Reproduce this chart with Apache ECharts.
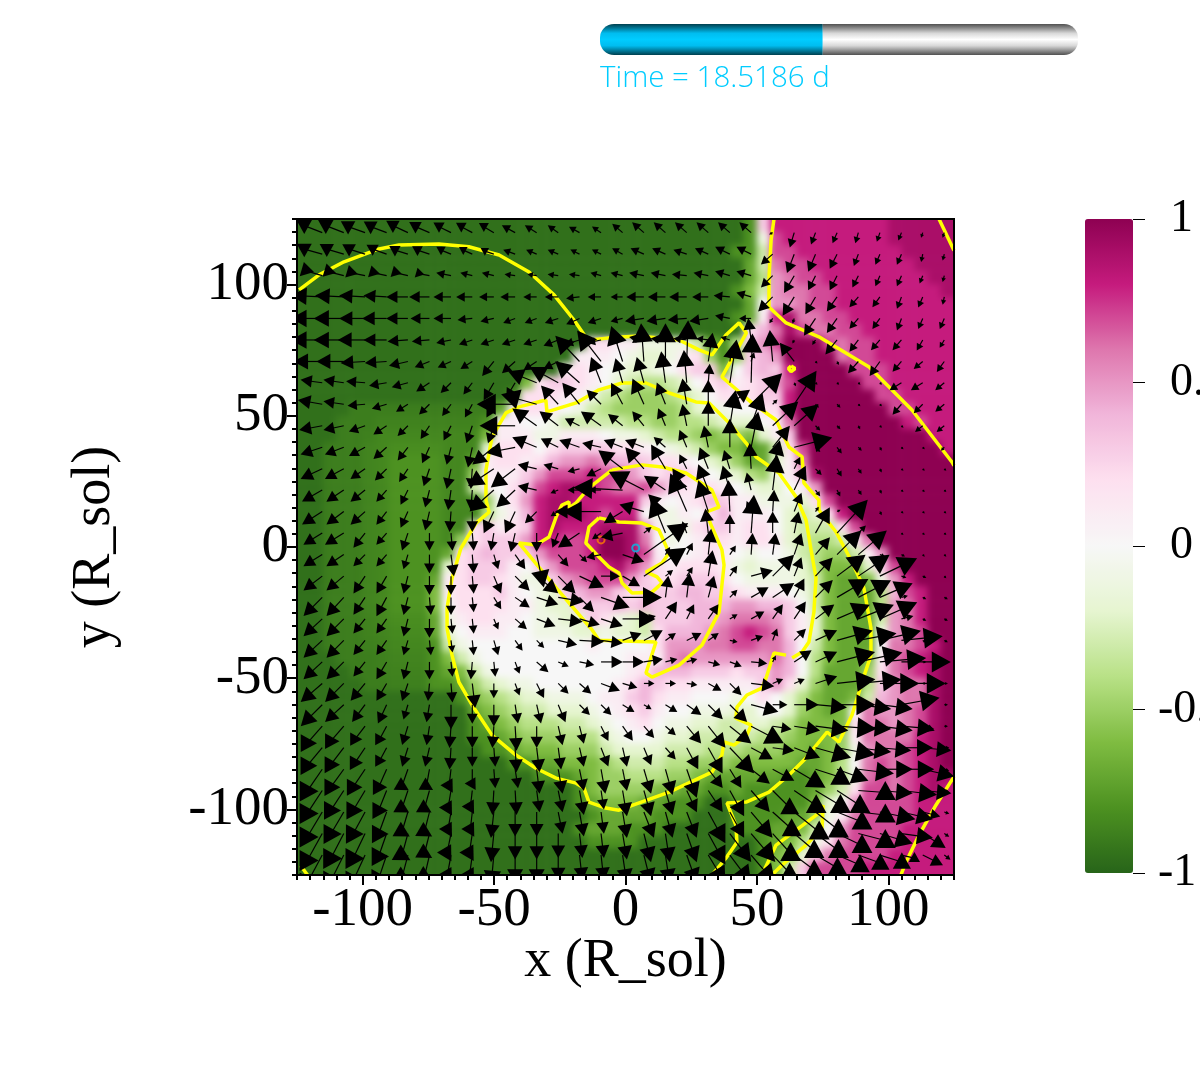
<!DOCTYPE html>
<html>
<head>
<meta charset="utf-8">
<style>html,body{margin:0;padding:0;background:#fff}#c{width:1200px;height:1092px}</style>
<script src="https://cdn.jsdelivr.net/npm/echarts@6/dist/echarts.min.js"></script>
</head>
<body>
<div id="c"></div>
<script>
// Colour scale of the slice, dark green to dark magenta
const paletteStops = ['#276419','#4d9221','#7fbc41','#b8e186','#e6f5d0','#f7f7f7','#fde0ef','#f1b6da','#de77ae','#c51b7d','#8e0152'];
const axisTicks = [-100,-50,0,50,100];
const timeDays = 18.5186;
const timeFraction = 0.466;
// The outermost green band reads slightly darker than a plain -9
const outerGreenLevel = -9.5;

// Field on a 50x50 lattice covering -125..125 in both directions, top row first, in tenths
const fieldTenths = [
[-9,-9,-9,-9,-9,-9,-9,-9,-9,-9, -9,-9,-9,-9,-9,-9,-9,-9,-9,-9, -9,-9,-9,-9,-9,-9,-9,-9,-9,-9, -9,-9,-9,-9,-8,3,8,8,8,8, 8,8,8,8,8,9,9,9,9,9],
[-9,-9,-9,-9,-9,-9,-9,-9,-9,-9, -9,-9,-9,-9,-9,-9,-9,-9,-9,-9, -9,-9,-9,-9,-9,-9,-9,-9,-9,-9, -9,-9,-9,-9,-8,-1,7,8,8,8, 8,8,8,8,8,9,9,9,9,9],
[-9,-9,-9,-9,-9,-9,-9,-9,-9,-9, -9,-9,-9,-9,-9,-9,-9,-9,-9,-9, -9,-9,-9,-9,-9,-9,-9,-9,-9,-9, -9,-9,-9,-8,-8,-3,7,7,8,8, 8,8,8,8,8,8,9,9,9,9],
[-9,-9,-9,-9,-9,-9,-9,-9,-9,-9, -9,-9,-9,-9,-9,-9,-9,-9,-9,-9, -9,-9,-9,-9,-9,-9,-9,-9,-9,-9, -9,-9,-9,-9,-7,-3,6,7,7,8, 8,8,8,8,8,8,8,9,9,9],
[-9,-9,-9,-9,-9,-9,-9,-9,-9,-9, -9,-9,-9,-9,-9,-9,-9,-9,-9,-9, -9,-9,-9,-9,-9,-9,-9,-9,-9,-9, -9,-9,-9,-9,-7,-4,5,6,7,7, 8,8,8,8,8,8,8,8,9,9],
[-9,-9,-9,-9,-9,-9,-9,-9,-9,-9, -9,-9,-9,-9,-9,-9,-9,-9,-9,-9, -9,-9,-9,-9,-9,-9,-9,-9,-9,-9, -9,-9,-9,-8,-6,-3,5,6,6,7, 7,8,8,8,8,8,8,8,8,9],
[-9,-9,-9,-9,-9,-9,-9,-9,-9,-9, -9,-9,-9,-9,-9,-9,-9,-9,-9,-9, -9,-9,-9,-9,-9,-9,-9,-9,-9,-9, -9,-9,-9,-9,-7,0,5,5,6,7, 7,8,8,8,8,8,8,8,8,8],
[-9,-9,-9,-9,-9,-9,-9,-9,-9,-9, -9,-9,-9,-9,-9,-9,-9,-9,-9,-9, -9,-9,-9,-9,-9,-9,-9,-9,-9,-9, -9,-9,-9,-8,-7,1,8,9,6,6, 7,7,8,8,8,8,8,8,8,8],
[-9,-9,-9,-9,-9,-9,-9,-9,-9,-9, -9,-9,-9,-9,-9,-9,-9,-9,-9,-9, -9,-9,-9,-9,-9,-9,-9,-9,-9,-9, -9,-9,-9,-9,2,4,6,9,7,6, 6,7,7,8,8,8,8,8,8,8],
[-9,-9,-9,-9,-9,-9,-9,-9,-9,-9, -9,-9,-9,-9,-9,-9,-9,-9,-9,-9, -9,-9,2,2,1,1,-1,-1,-1,-1, -3,-7,-8,-4,3,5,7,10,10,10, 7,6,7,7,8,8,8,8,8,8],
[-9,-9,-9,-9,-9,-9,-9,-9,-9,-9, -9,-9,-9,-9,-9,-9,-9,-9,-9,-9, -9,1,1,1,0,-1,-2,-2,-1,1, 2,-5,-8,-5,3,4,5,10,10,10, 10,6,7,7,8,8,8,8,8,8],
[-9,-9,-9,-9,-9,-9,-9,-9,-9,-9, -9,-9,-9,-9,-9,-9,-9,-9,-9,-9, 1,2,1,0,-1,-2,-2,-1,0,2, 3,3,-6,0,3,4,3,8,10,10, 10,10,7,7,7,8,8,8,8,8],
[-9,-9,-9,-9,-9,-9,-9,-9,-9,-9, -9,-9,-9,-9,-9,-9,-9,-6,2,3, 3,2,1,0,-2,-3,-4,-4,-3,-2, 0,2,3,1,2,3,5,7,10,10, 10,10,10,7,7,8,8,8,8,8],
[-9,-9,-9,-9,-9,-9,-9,-9,-9,-9, -9,-9,-9,-9,-9,-9,-8,2,2,2, 1,1,-1,-3,-4,-5,-5,-5,-4,-3, -2,0,2,2,2,3,3,8,10,10, 10,10,10,10,7,7,8,8,8,8],
[-9,-9,-9,-9,-8.9,-8.9,-8.9,-8.9,-8.9,-8.9, -8.9,-8.9,-8.9,-8.9,-8.9,-7,1,2,2,1, 0,-1,-3,-4,-5,-5,-5,-5,-5,-4, -2,-1,-1,0,0,2,2,8,10,10, 10,10,10,10,10,7,7,8,8,8],
[-9,-9,-9,-8.9,-8.9,-8.9,-8.7,-8.7,-8.7,-8.7, -8.7,-8.7,-8.7,-8.7,-8,1,1,0,0,-1, -3,-3,-3,-3,-3,-4,-4,-5,-5,-4, -4,-3,-2,-2,-2,0,1,6,10,10, 10,10,10,10,10,10,8,7,8,8],
[-9,-9,-9,-8.9,-8.9,-8.8,-8.5,-8.5,-8.5,-8.5, -8.5,-8.5,-8.5,-8.5,-6,1,1,1,-1,-1, 1,1,1,0,-1,-1,-2,-3,-4,-4, -5,-6,-5,-5,-6,-2,1,3,10,10, 10,10,10,10,10,10,10,10,8,8],
[-9,-9,-8.9,-8.9,-8.9,-8.6,-8.5,-8.2,-8.2,-8.2, -8.2,-8.5,-8.5,-8.5,-2,2,2,2,0,2, 3,3,3,3,2,2,1,0,-1,-2, -3,-5,-6,-6,-8,-7,-3,2,7,10, 10,10,10,10,10,10,10,10,10,8],
[-9,-9,-8.9,-8.9,-8.9,-8.6,-8.5,-8,-8,-8, -8,-8.5,-8.5,-7,1,2,2,1,2,4, 5,5,6,5,4,4,3,2,2,1, 0,-2,-3,-5,-7,-7,-2,1,6,10, 10,10,10,10,10,10,10,10,10,10],
[-9,-9,-8.9,-8.9,-8.9,-8.6,-8.5,-8,-8,-8, -8,-8.5,-8.5,-5,1,1,1,3,5,7, 7,7,8,7,7,5,3,2,3,3, 2,0,-1,-2,-4,-5,-1,1,4,9, 10,10,10,10,10,10,10,10,10,10],
[-9,-9,-8.9,-8.9,-8.9,-8.6,-8.5,-8,-8,-8, -8,-8.5,-8.5,-3,1,0,2,4,7,8, 9,9,8,7,6,6,7,5,3,2, 1,2,1,0,-1,-2,-2,0,1,5, 10,10,10,10,10,10,10,10,10,10],
[-9,-9,-8.9,-8.9,-8.9,-8.6,-8.5,-8,-8,-8, -8,-8.5,-8.5,-8.5,-5,0,2,5,8,9, 9,8,8,8,8,8,3,1,0,1, 2,4,3,1,1,-1,-1,-1,-2,2, 7,10,10,10,10,10,10,10,10,10],
[-9,-9,-8.9,-8.9,-8.9,-8.6,-8.5,-8,-8,-8, -8,-8.5,-8.5,-8.5,-4,-1,1,4,8,9, 9,9,8,7,8,8,0,-1,-1,1, 0,2,4,1,1,1,0,-2,-3,-2, 2,8,10,10,10,10,10,10,10,10],
[-9,-9,-8.9,-8.9,-8.9,-8.6,-8.5,-8,-8,-8, -8,-8.5,-8.5,2,3,1,2,3,8,9, 8,8,8,9,9,9,5,1,-1,-1, 2,3,3,1,2,2,0,-2,-3,-3, -3,2,7,10,10,10,10,10,10,10],
[-9,-9,-8.9,-8.9,-8.9,-8.6,-8.5,-8,-8,-8, -8,-8.5,-5,2,3,3,3,5,8,8, 7,7,8,10,10,9,6,0,-1,0, 1,2,2,1,2,2,1,-2,-3,-4, -4,-3,1,6,10,10,10,10,10,10],
[-9,-9,-8.9,-8.9,-8.9,-8.6,-8.5,-8,-8,-8, -8,-7,2,3,4,3,3,3,5,7, 7,7,8,10,10,9,7,1,0,0, 1,2,1,0,-1,0,0,-1,-3,-4, -5,-5,-3,1,5,10,10,10,10,10],
[-9,-9,-8.9,-8.9,-8.9,-8.6,-8.5,-8,-8,-8, -8,-2,2,3,3,3,1,0,3,5, 7,7,7,8,9,7,5,2,1,2, 2,2,1,-1,-2,-1,-1,-1,-2,-4, -6,-6,-6,-2,3,7,10,10,10,10],
[-9,-9,-8.9,-8.9,-8.9,-8.6,-8.5,-8,-8,-8, -7,1,2,3,3,2,1,-1,-1,3, 5,6,7,7,7,5,3,2,2,3, 3,3,2,0,-1,-1,-1,-1,-2,-3, -6,-7,-7,-6,-1,5,8,10,10,10],
[-9,-9,-8.9,-8.9,-8.9,-8.6,-8.5,-8,-8,-8, -6,1,2,2,2,3,1,0,-1,-2, 3,4,5,5,3,2,3,3,3,4, 4,3,3,2,1,1,1,0,-1,-3, -6,-7,-7,-7,-4,4,7,8,10,10],
[-9,-9,-8.9,-8.9,-8.9,-8.6,-8.5,-8,-8,-8, -6,0,2,2,2,2,1,1,-1,-2, -2,3,3,3,4,3,4,3,3,3, 4,4,4,5,5,4,4,3,0,-3, -6,-7,-7,-7,-4,5,6,8,10,10],
[-9,-9,-8.9,-8.9,-8.9,-8.7,-8.5,-8.2,-8.2,-8.2, -7,-1,1,2,2,1,1,0,-1,-1, -2,-2,3,2,-1,-2,-3,3,3,3, 4,4,5,6,6,6,5,3,1,-2, -6,-7,-7,-7,-3,5,6,8,10,10],
[-9,-9,-8.9,-8.9,-8.9,-8.7,-8.6,-8.4,-8.3,-8.3, -7,-2,0,1,1,1,0,0,-1,-1, -1,-2,-2,-1,-2,-2,-3,2,4,4, 4,5,6,7,8,7,6,3,1,-2, -6,-7,-7,-7,-1,5,6,7,10,10],
[-9,-9,-8.9,-8.9,-8.9,-8.8,-8.7,-8.5,-8.5,-8.5, -8,-3,-1,0,0,0,0,0,0,0, 0,0,1,0,0,0,0,2,5,5, 5,6,6,7,7,6,6,4,0,-3, -6,-7,-7,-7,0,6,6,7,8,10],
[-9,-9,-9,-8.9,-8.9,-8.9,-8.8,-8.6,-8.6,-8.6, -8,-6,-3,-1,0,0,0,0,0,0, 0,0,0,0,0,1,1,1,5,6, 5,5,5,5,5,5,6,4,0,-4, -6,-7,-7,-6,1,6,7,8,9,10],
[-9,-9,-9,-9,-8.9,-8.9,-8.8,-8.7,-8.7,-8.7, -8,-7,-6,-3,-1,0,0,0,0,0, 0,0,0,0,0,1,2,4,4,4, 3,3,3,2,3,3,5,4,0,-4, -7,-7,-7,-5,2,6,7,8,9,10],
[-9,-9,-9,-9,-9,-8.9,-8.9,-8.8,-8.8,-8.8, -8,-8,-7,-5,-3,-2,-1,-1,0,0, 0,0,0,0,1,2,4,3,2,2, 1,1,1,1,1,3,5,2,-2,-5, -7,-7,-7,-4,3,5,6,6,9,10],
[-9,-9,-9,-9,-9,-9,-9,-9,-9,-9, -9,-9,-8,-6,-5,-4,-3,-2,-2,-1, -1,-1,0,1,1,3,4,2,1,1, 0,0,0,-1,0,2,0,-2,-4,-6, -7,-7,-6,-3,4,5,6,6,9,10],
[-9,-9,-9,-9,-9,-9,-9,-9,-9,-9, -9,-9,-9,-7,-6,-5,-4,-3,-3,-2, -2,-2,-1,0,1,2,3,1,0,0, -1,-1,-1,-2,-2,0,0,-2,-5,-6, -7,-6,0,6,5,5,6,7,9,10],
[-9,-9,-9,-9,-9,-9,-9,-9,-9,-9, -9,-9,-9,-8,-7,-6,-5,-4,-4,-4, -3,-3,-2,-1,0,1,2,0,-1,-1, -2,-2,-3,-3,-2,-2,-3,-4,-6,-6, -6,-6,2,6,6,5,6,7,9,10],
[-9,-9,-9,-9,-9,-9,-9,-9,-9,-9, -9,-9,-9,-8,-8,-7,-6,-5,-5,-5, -4,-4,-4,-2,-1,0,0,-1,-2,-2, -3,-3,-3,-3,-3,-4,-4,-5,-6,-6, -6,-5,1,6,6,6,6,8,9,10],
[-9,-9,-9,-9,-9,-9,-9,-9,-9,-9, -9,-9,-9,-9,-8,-8,-7,-6,-6,-6, -5,-5,-5,-3,-2,-2,-2,-2,-3,-3, -3,-4,-4,-4,-5,-5,-5,-6,-6,-7, -6,-5,-1,5,6,6,7,8,9,10],
[-9,-9,-9,-9,-9,-9,-9,-9,-9,-9, -9,-9,-9,-9,-9,-9,-8,-8,-7,-7, -6,-6,-6,-5,-4,-3,-3,-3,-4,-4, -5,-5,-5,-6,-6,-6,-6,-6,-7,-7, -6,-4,0,6,7,6,7,8,9,10],
[-9,-9,-9,-9,-9,-9,-9,-9,-9,-9, -9,-9,-9,-9,-9,-9,-9,-9,-8,-8, -8,-7,-6,-5,-5,-4,-4,-4,-5,-5, -6,-7,-7,-7,-7,-7,-7,-8,-8,-7, -6,-4,-1,6,7,6,7,8,9,9],
[-9,-9,-9,-9,-9,-9,-9,-9,-9,-9, -9,-9,-9,-9,-9,-9,-9,-9,-9,-9, -9,-8,-6,-5,-5,-5,-5,-6,-6,-7, -7,-8,-8,-7,-8,-8,-8,-8,-8,-7, -5,-3,2,7,7,6,7,8,9,8],
[-9,-9,-9,-9,-9,-9,-9,-9,-9,-9, -9,-9,-9,-9,-9,-9,-9,-9,-9,-9, -9,-8,-7,-6,-6,-6,-7,-7,-8,-8, -8,-9,-9,-8,-8,-8,-8,-8,-8,-6, -2,0,5,7,7,7,7,8,8,8],
[-9,-9,-9,-9,-9,-9,-9,-9,-9,-9, -9,-9,-9,-9,-9,-9,-9,-9,-9,-9, -9,-9,-8,-7,-7,-7,-7,-8,-8,-8, -9,-9,-9,-8,-8,-8,-8,-7,-7,-5, -1,1,6,7,7,7,7,8,8,8],
[-9,-9,-9,-9,-9,-9,-9,-9,-9,-9, -9,-9,-9,-9,-9,-9,-9,-9,-9,-9, -9,-8,-7,-7,-7,-8,-8,-8,-9,-9, -9,-9,-9,-8,-8,-8,-7,-7,-6,-3, 0,5,7,7,7,7,8,8,8,8],
[-9,-9,-9,-9,-9,-9,-9,-9,-9,-9, -9,-9,-9,-9,-9,-9,-9,-9,-9,-9, -9,-9,-8,-8,-8,-8,-9,-9,-9,-9, -9,-9,-9,-9,-9,-8,-7,-6,-4,-1, 2,6,7,7,7,7,8,8,8,8],
[-9,-9,-9,-9,-9,-9,-9,-9,-9,-9, -9,-9,-9,-9,-9,-9,-9,-9,-9,-9, -9,-9,-9,-9,-9,-9,-9,-9,-9,-9, -9,-9,-9,-9,-9,-8,-6,-5,-2,3, 6,7,7,7,7,8,8,8,8,8],
[-9,-9,-9,-9,-9,-9,-9,-9,-9,-9, -9,-9,-9,-9,-9,-9,-9,-9,-9,-9, -9,-9,-9,-9,-9,-9,-9,-9,-9,-9, -9,-9,-9,-9,-9,-8,-6,-3,3,7, 7,7,7,8,8,8,8,8,8,8]
];

// Iso-lines of the field, as (x, y) in solar radii
const isoTopArc = [[-124.2,98],[-116.6,103.7],[-107.1,108.7],[-93.8,113.6],[-86.2,115.1],[-71,115.5],[-59.6,114.4],[-48.1,111.3],[-36.7,104.8],[-27.2,96.1],[-19.6,86.5],[-13.9,78.2]];
const isoOuterShell = [[-13.1,78.9],[-6.3,79.7],[5.1,80.4],[20.4,78.9],[28,75.1],[32.9,73.2],[38.2,80.8],[43.2,85.4],[46,81.6],[36.7,64.8],[48.1,54.9],[57.3,48.4],[62.2,38.1],[67.2,34.3],[67.9,24.4],[73.6,17.9],[73.6,14.1],[80.1,5.7],[86.2,-5.7],[90.7,-15.6],[93.4,-30.9],[93.4,-41.2],[90,-51.5],[86.2,-64],[81.2,-74.3],[76.7,-70.5],[68.7,-80.4],[62.2,-86.9],[54.6,-93.4],[45.9,-97.2],[38.6,-97.6],[42,-106],[42.4,-112.5],[38.2,-118.6],[32.9,-125]];
const isoMiddleA = [[-62.6,-0.4],[-56.9,9.1],[-51.9,13.3],[-53.1,17.9],[-53.1,29.4],[-50.8,41.9],[-45.5,51.1],[-40.5,53.4],[-30.3,56],[-29.9,51.5],[-18.8,54.9],[-10.1,59.9],[-1.3,62.5],[7.8,62.5],[16.6,58.7],[26.8,55.3],[31.8,54.9],[39.4,47.3],[45.9,39.6],[49.7,34.3],[58.4,28.2],[64.9,19.1],[68.7,10.3],[70.6,-1.1],[72.5,-11.8],[71.7,-24.8],[69.8,-36.2],[67.2,-40],[63.4,-42.3]];
const isoMiddleB = [[61.1,-41.2],[56.5,-40.4],[53.5,-49.9],[51.9,-53.8],[46.2,-56.4],[42.4,-61],[42,-65.2],[47.8,-67.9],[46.2,-71.7],[41.3,-75.5],[37.5,-74.3],[36.7,-79.3],[32.9,-85.8],[16.6,-93.4],[-2.5,-100.3],[-7.5,-99.5],[-13.9,-97.2],[-15.8,-91.9],[-18.8,-90],[-26.4,-88.1],[-34.1,-84.3],[-41.7,-79.3],[-50.8,-71.7],[-58.4,-60.2],[-63.4,-51.5],[-66,-41.2],[-67.9,-30.9],[-67.9,-23.3],[-66,-11.8],[-62.6,-0.4]];
const isoSpiral = [[-5.1,29.4],[6.3,31.3],[13.9,30.5],[23,28.2],[32.9,21.7],[35.6,15.2],[30.6,13.3],[32.9,7.6],[36.7,-1.1],[37.5,-6.9],[35.6,-24.8],[29.1,-37.4],[20.4,-45],[10.1,-49.6],[7.8,-48],[11.6,-36.2],[-10.1,-35.5],[-12.7,-31.6],[-28,-13.7],[-40.5,1.5],[-34.1,0.8],[-29.1,3.8],[-26.4,11.4],[-24.2,16],[-21.5,17.2],[-21.5,14.9],[-18.8,16.8],[-13.9,22.5],[-5.1,29.4]];
const isoCore = [[-10.1,11.1],[-2.5,9.5],[6.3,9.1],[12.7,6.5],[16.6,-2.3],[13.9,-6.1],[7.8,-9.5],[12,-11.4],[13.9,-13.7],[10.1,-17.2],[2.5,-17.5],[-1.3,-13.7],[-2.5,-9.9],[-6.3,-7.6],[-10.1,-3.8],[-15.1,1.5],[-13.9,7.6],[-10.1,11.1]];
const isoRightFront = [[56.5,125],[55.4,117],[54.6,102.9],[54.6,91.5],[61.1,85.4],[73.6,80.1],[92.7,68.6],[109,52.2],[124.2,32.4],[125,31]];
const isoCornerTop = [[119.3,125],[125,113]];
const isoCornerBottom = [[125,-87.5],[118.1,-98.4],[111.7,-109.8],[106.7,-120.1],[104.8,-125]];
const isoLoop = [[51.9,-125],[57.3,-113.6],[73.6,-101.4],[75.2,-98.4],[74.8,-107.1],[68.7,-113.6],[59.6,-121.2],[55.7,-125]];
const isoDot = [[63,69],[64.5,68],[63,66.8],[62,68],[63,69]];
const isoEdge = [[-123.6,-121.5],[-121,-125]];

// Positions of the two stellar cores
const coreOrange = [-9.3,2.7];
const coreCyan = [3.9,-0.4];

// Where each velocity arrow starts
const flowXs = [-115.4,-107.2,-99.1,-90.9,-82.8,-74.6,-66.4,-58.3,-50.1,-42,-33.8,-25.6,-17.5,-9.3,-1.1,7,15.2,23.3,31.5,39.7,47.8,56,64.2,72.3,80.5,88.6,96.8,105,113.1,121.3];
const flowYs = [119.8,111.6,103.4,95.3,87.1,78.9,70.7,62.6,54.4,46.2,38,29.8,21.7,13.5,5.3,-2.9,-11.1,-19.2,-27.4,-35.6,-43.8,-52,-60.1,-68.3,-76.5,-84.7,-92.8,-101,-109.2,-117.4];
// Velocity pairs (east, north) per arrow, top row first
const flowRows = [
[-18,7,-18,7,-17,6,-16,6,-15,7,-14,6,-12,6,-11,6,-10,6,-9,5,-8,5,-7,5,-7,4,-6,4,-7,6,-8,7,-8,7,-8,7,-8,7,-8,7,-8,7,-2,-1,-3,-10,-3,-8,-3,-7,-2,-7,-2,-6,-2,-5,-1,-3,-1,-3],
[-18,5,-17,5,-16,5,-14,5,-13,4,-12,4,-10,4,-9,4,-9,3,-8,3,-7,3,-7,3,-6,3,-6,3,-7,4,-9,4,-9,4,-9,3,-9,4,-10,5,-10,5,-8,-7,-5,-13,-5,-12,-5,-10,-3,-8,-3,-7,-3,-7,-1,-5,-1,-4],
[-17,5,-16,4,-15,3,-14,3,-13,3,-11,2,-10,2,-8,2,-8,2,-7,1,-6,1,-7,1,-7,1,-7,2,-8,2,-10,2,-10,2,-10,1,-10,2,-10,3,-10,3,-8,-8,-7,-12,-5,-10,-5,-10,-4,-8,-3,-7,-3,-7,-2,-5,-1,-4],
[-22,1,-20,1,-18,1,-16,1,-15,0,-14,0,-12,0,-11,0,-10,0,-10,0,-9,0,-9,0,-9,-1,-9,0,-8,0,-12,0,-12,0,-12,0,-11,0,-11,1,-10,3,-10,-10,-8,-13,-7,-12,-7,-10,-6,-7,-5,-7,-3,-8,-3,-7,-1,-5],
[-22,0,-21,0,-18,0,-17,0,-15,0,-13,0,-12,0,-10,-1,-9,-2,-8,-3,-8,-3,-9,-3,-9,-4,-9,-3,-8,-2,-13,-2,-13,-2,-13,-1,-13,-2,-10,2,-8,0,-2,-3,-1,-3,-8,-12,-7,-10,-6,-7,-5,-7,-3,-8,-3,-7,-3,-7],
[-22,0,-21,0,-19,0,-16,0,-14,-1,-12,-1,-10,-2,-9,-3,-9,-3,-9,-3,-9,-3,-10,-4,-10,-3,-9,-2,-8,-1,-10,2,-10,1,-9,1,-8,1,-6,2,-2,15,-1,-2,-1,-2,-2,-3,-8,-10,-6,-8,-6,-7,-6,-7,-4,-7,-3,-5],
[-20,0,-19,0,-17,-1,-15,-1,-13,-3,-10,-4,-9,-4,-8,-5,-8,-10,-9,-8,-9,-6,-10,-5,-17,18,-17,22,-8,25,-2,27,0,27,1,30,3,20,1,6,2,6,-2,22,-10,13,1,-1,1,-2,-7,-8,-7,-10,-6,-7,-6,-5,-5,-7],
[-15,2,-14,2,-13,1,-12,-2,-11,-3,-9,-6,-7,-7,-6,-8,-7,-12,-6,-10,-20,8,-20,11,-17,15,-7,18,-5,17,-5,18,-3,22,-2,23,1,13,5,32,1,38,2,3,1,-2,1,-1,1,-1,1,-1,1,-1,-8,-5,-8,-5,-6,-5],
[-17,3,-14,2,-12,-1,-10,-3,-8,-5,-7,-7,-6,-8,-5,-9,-5,-9,-27,0,-25,7,-12,13,-12,15,-10,10,-8,15,-8,18,-6,15,-3,18,0,17,14,10,23,23,3,3,16,24,2,-2,2,-2,1,-1,1,-1,-6,-7,-6,-6,-6,-5],
[-16,-3,-14,-3,-11,-4,-9,-6,-7,-7,-6,-9,-5,-10,-4,-12,-4,-12,-25,0,-17,12,-13,10,-10,5,-14,10,-10,8,-8,10,-5,12,-3,15,0,17,4,25,8,23,18,17,17,15,3,-3,2,-2,1,-2,1,-1,1,-1,-5,-4,-5,-4],
[-15,-5,-13,-5,-11,-6,-9,-8,-7,-9,-5,-11,-3,-12,-3,-14,-15,-12,-20,-4,-17,7,-12,6,-14,5,-13,3,-13,5,-13,5,-8,7,-5,12,-3,15,0,20,5,25,12,15,27,7,3,-3,3,-4,2,-2,1,-2,1,-1,1,-1,-2,-2],
[-15,-7,-13,-7,-10,-7,-8,-8,-6,-9,-4,-12,-3,-14,-1,-14,-18,-12,-17,-13,-13,3,-10,3,-8,-2,-10,-5,-17,13,-13,15,-10,17,-5,10,-6,15,-4,13,-1,18,5,20,4,8,4,-4,3,-5,2,-3,1,-2,1,-1,1,-1,1,-1],
[-14,-8,-12,-8,-10,-8,-7,-8,-5,-10,-3,-12,-2,-14,-1,-14,-17,-15,-13,-12,-13,3,-5,-2,-8,0,-8,0,-38,2,-25,13,-15,10,-10,15,-7,18,-5,17,-3,12,3,25,8,17,3,-4,2,-4,2,-3,1,-2,1,-1,1,-1,1,-1],
[-14,-9,-12,-9,-10,-9,-7,-9,-5,-11,-3,-13,-1,-14,0,-14,-7,-15,-7,-15,-8,-8,-5,-3,-17,0,-27,0,-13,-8,-17,5,-12,12,-12,28,-7,22,-1,22,-3,7,1,15,5,13,2,3,2,1,2,-2,1,-2,1,-1,1,-1,1,-1],
[-13,-8,-13,-8,-8,-10,-7,-8,-4,-12,0,-12,1,-12,1,-12,-2,-12,-3,-13,0,-13,-4,-10,-15,-10,-6,-4,-15,-3,5,4,-10,25,-3,8,-2,17,0,13,2,27,0,15,3,15,10,18,23,25,5,5,2,-1,1,-1,1,-1,1,-1],
[-13,-8,-12,-8,-8,-8,-7,-8,-3,-10,0,-13,2,-15,1,-13,3,-10,7,-10,5,-23,7,-8,5,-5,-10,-2,15,-5,35,25,3,5,4,8,2,18,4,6,1,15,2,15,5,15,10,12,17,17,20,17,3,-1,2,-1,1,-1,1,-1],
[-13,-10,-12,-10,-8,-12,-7,-12,-3,-12,0,-13,0,-13,1,-12,5,-12,10,-10,15,-12,12,-12,17,-8,13,0,12,-7,33,22,5,4,4,6,3,18,5,7,15,4,15,15,5,13,12,13,20,15,22,15,27,13,3,-1,2,-1,1,-1],
[-13,-13,-12,-13,-8,-12,-7,-13,-3,-12,1,-12,0,-12,1,-10,5,-8,10,-7,15,-5,18,-3,10,-10,20,-7,28,0,6,3,2,15,2,17,4,15,5,5,12,7,15,10,7,13,12,12,22,13,23,12,23,10,4,1,2,-1,2,-1],
[-13,-12,-12,-12,-8,-10,-7,-10,-3,-12,0,-13,1,-10,1,-10,3,-7,8,-7,13,-5,17,-2,14,-4,15,-5,23,0,8,2,8,12,5,10,7,10,5,3,9,5,7,10,8,12,13,10,23,10,25,10,27,12,8,2,2,-1,2,-1],
[-13,-12,-12,-12,-8,-10,-7,-10,-3,-10,1,-10,1,-8,1,-10,3,-10,5,-7,5,-5,13,-3,17,-1,15,-2,13,5,13,7,7,5,10,5,7,5,5,-1,8,3,3,8,8,8,15,7,25,7,27,5,30,7,30,3,2,-1,2,-1],
[-13,-12,-12,-12,-8,-10,-7,-12,-3,-12,0,-12,1,-10,-1,-12,1,-10,3,-8,8,-7,7,-3,10,-2,15,0,15,0,13,2,8,2,7,2,8,-2,8,-3,11,-1,2,4,12,8,15,7,27,7,33,7,35,3,38,0,2,0,2,0],
[-15,-13,-13,-13,-10,-12,-7,-12,-4,-12,-1,-12,1,-13,2,-17,0,-10,3,-8,5,-10,7,-7,8,-7,13,-5,10,-3,7,0,7,0,7,-1,9,-5,8,-8,16,-2,7,3,7,3,15,5,27,3,32,3,28,0,33,0,2,0,2,0],
[-15,-15,-13,-12,-9,-12,-6,-13,-3,-10,-2,-12,0,-17,0,-13,0,-15,2,-13,3,-13,5,-12,7,-7,7,-7,8,-5,5,-3,8,-5,10,-7,10,-10,12,-12,19,-5,10,0,17,0,22,-2,27,0,23,-3,23,-3,27,5,3,0,2,0],
[-15,-17,-13,-15,-10,-13,-7,-13,-4,-13,-2,-13,-1,-15,0,-15,-1,-15,1,-17,0,-15,3,-13,3,-12,5,-10,7,-10,7,-8,7,-6,10,-12,12,-15,15,-12,23,-12,13,-2,18,-3,23,-3,28,-2,23,-2,23,-3,23,-2,8,-3,2,0],
[-15,-18,-13,-17,-10,-15,-7,-13,-4,-13,-3,-13,-1,-15,0,-13,1,-13,1,-17,2,-17,2,-15,3,-13,5,-13,3,-13,5,-12,7,-8,8,-15,10,-18,17,-18,15,-8,15,-2,18,-7,25,-7,27,-5,23,-3,22,-2,22,0,20,-2,3,0],
[-15,-22,-13,-18,-12,-18,-8,-18,-6,-17,-3,-17,-2,-17,0,-15,1,-13,2,-13,2,-17,3,-17,3,-15,3,-17,3,-15,5,-17,5,-18,7,-20,10,-13,8,-13,13,-10,15,-8,22,-13,25,-8,22,-8,25,-3,23,0,23,0,22,-5,3,-1],
[-15,-23,-13,-20,-12,-20,-8,-20,-6,-18,-5,-18,-3,-18,-2,-17,-1,-17,1,-17,2,-15,3,-15,3,-17,2,-13,3,-18,5,-18,5,-17,7,-15,10,-15,10,-18,13,-15,17,-17,22,-15,25,-15,23,-15,27,-2,23,-2,25,-3,20,-2,3,-1],
[-15,-25,-13,-22,-12,-22,-8,-22,-6,-20,-5,-20,-3,-18,-2,-18,-2,-18,0,-17,0,-17,3,-15,3,-17,2,-15,3,-18,7,-18,5,-18,7,-18,12,-22,10,-18,15,-18,19,-17,25,-20,23,-18,25,-10,27,-3,25,-5,22,-5,12,-3,3,-1],
[-15,-27,-13,-25,-12,-25,-8,-23,-6,-22,-5,-20,-4,-20,-3,-20,-2,-20,0,-18,0,-18,0,-17,2,-17,2,-17,3,-18,5,-20,3,-20,7,-20,12,-22,15,-20,17,-20,18,-20,20,-17,23,-17,25,-12,27,-7,23,-7,22,-3,16,-10,3,-2],
[-15,-28,-13,-26,-12,-26,-8,-24,-6,-23,-5,-22,-4,-22,-3,-22,-2,-22,0,-20,0,-20,0,-18,2,-18,2,-18,3,-20,5,-20,3,-20,7,-20,12,-20,15,-20,17,-20,17,-18,20,-15,22,-13,23,-10,22,-8,22,-7,13,-3,14,-7,4,-3]
];
// Blocks of arrows whose cone is seen turned away from the shaft: first col, last col, first row, last row, degrees
const headTurns = [[0,8,0,1,-90],[0,5,2,2,-135],[0,3,23,29,0],[4,5,25,29,-30],[6,7,25,29,-60],[21,25,26,29,90],[23,23,25,25,90],[26,27,29,29,90]];

// Turns a velocity pair into an arrow length in solar radii
const arrowScale = 0.38;

const fieldData = [];
const N = fieldTenths.length;
for (let j = -1; j <= N; j++) {
  const row = fieldTenths[Math.max(0, Math.min(N - 1, j))];
  for (let i = -1; i <= N; i++) {
    const level = row[Math.max(0, Math.min(N - 1, i))];
    fieldData.push([i + 1, j + 1, level === -9 ? outerGreenLevel : level]);
  }
}
const bandLabels = Array.from({length: N + 2}, (_, k) => String(k));

const flowData = [];
flowRows.forEach((row, j) => {
  flowXs.forEach((x, i) => {
    let turn = NaN;
    headTurns.forEach(t => { if (i >= t[0] && i <= t[1] && j >= t[2] && j <= t[3]) turn = t[4]; });
    flowData.push([x, flowYs[j], row[2 * i], row[2 * i + 1], turn]);
  });
});

function drawArrow(params, api) {
  const x = api.value(0), y = api.value(1), u = api.value(2), v = api.value(3), turn = api.value(4);
  const tail = api.coord([x, y]);
  const head = api.coord([x + u * arrowScale, y + v * arrowScale]);
  const mag = Math.hypot(u, v);
  const size = Math.min(19, 1.5 + 0.65 * mag);
  const ang = isNaN(turn) ? Math.atan2(head[1] - tail[1], head[0] - tail[0]) : -turn * Math.PI / 180;
  const dx = Math.cos(ang), dy = Math.sin(ang);
  const apex = [head[0] + dx * size * 0.6, head[1] + dy * size * 0.6];
  const bx = head[0] - dx * size * 0.4, by = head[1] - dy * size * 0.4;
  const w = size * 0.55;
  return {
    type: 'group',
    children: [
      {type: 'line', shape: {x1: tail[0], y1: tail[1], x2: head[0], y2: head[1]}, style: {stroke: '#000', lineWidth: 1.2}},
      {type: 'polygon', shape: {points: [apex, [bx - dy * w, by + dx * w], [bx + dy * w, by - dx * w]]}, style: {fill: '#000'}}
    ]
  };
}

const serif = 'Liberation Serif';
const isoSeries = [isoTopArc, isoOuterShell, isoMiddleA, isoMiddleB, isoSpiral, isoCore, isoRightFront, isoCornerTop, isoCornerBottom, isoLoop, isoDot, isoEdge].map(pts => ({
  type: 'line', zlevel: 1, z: 4, xAxisIndex: 0, yAxisIndex: 0, data: pts, showSymbol: false, silent: true, clip: true,
  lineStyle: {color: '#ffff00', width: 3.5}, animation: false
}));

const chart = echarts.init(document.getElementById('c'), null, {renderer: 'canvas'});
chart.setOption({
  backgroundColor: '#fff',
  animation: false,
  grid: [
    {left: 297, top: 219, width: 657, height: 656, outerBoundsMode: 'none', show: true, borderColor: '#000', borderWidth: 2, backgroundColor: 'transparent', zlevel: 1, z: 8},
    {left: 283.86, top: 205.88, width: 683.28, height: 682.24, outerBoundsMode: 'none', zlevel: 0},
    {left: 1085, top: 219, width: 48, height: 654, outerBoundsMode: 'none', zlevel: 1}
  ],
  xAxis: [
    {type: 'value', gridIndex: 0, min: -125, max: 125, interval: 25, position: 'bottom', zlevel: 1, z: 9,
      name: 'x (R_sol)', nameLocation: 'middle', nameGap: 60, nameMoveOverlap: false, nameTextStyle: {fontFamily: serif, fontSize: 54, color: '#000'},
      axisLine: {show: true, onZero: false, lineStyle: {color: '#000', width: 2}},
      axisTick: {show: true, length: 10, customValues: axisTicks, lineStyle: {color: '#000', width: 2}},
      axisLabel: {show: true, customValues: axisTicks, fontFamily: serif, fontSize: 55, color: '#000', margin: 8},
      splitLine: {show: false}},
    {type: 'value', gridIndex: 0, min: -125, max: 125, interval: 5, position: 'bottom', zlevel: 1, z: 9,
      axisLine: {show: false, onZero: false}, axisLabel: {show: false}, splitLine: {show: false},
      axisTick: {show: true, length: 5, lineStyle: {color: '#000', width: 2}}},
    {type: 'category', gridIndex: 1, data: bandLabels, show: false, zlevel: 0},
    {type: 'value', gridIndex: 2, min: 0, max: 1, show: false, zlevel: 1}
  ],
  yAxis: [
    {type: 'value', gridIndex: 0, min: -125, max: 125, interval: 25, position: 'left', zlevel: 1, z: 9,
      name: 'y (R_sol)', nameLocation: 'middle', nameGap: 175, nameRotate: 90, nameMoveOverlap: false, nameTextStyle: {fontFamily: serif, fontSize: 54, color: '#000'},
      axisLine: {show: true, onZero: false, lineStyle: {color: '#000', width: 2}},
      axisTick: {show: true, length: 10, customValues: axisTicks, lineStyle: {color: '#000', width: 2}},
      axisLabel: {show: true, customValues: axisTicks, fontFamily: serif, fontSize: 55, color: '#000', margin: 8, padding: [8, 0, 0, 0]},
      splitLine: {show: false}},
    {type: 'value', gridIndex: 0, min: -125, max: 125, interval: 5, position: 'left', zlevel: 1, z: 9,
      axisLine: {show: false, onZero: false}, axisLabel: {show: false}, splitLine: {show: false},
      axisTick: {show: true, length: 5, lineStyle: {color: '#000', width: 2}}},
    {type: 'category', gridIndex: 1, data: bandLabels, inverse: true, show: false, zlevel: 0},
    {type: 'value', gridIndex: 2, min: -1, max: 1, interval: 0.5, position: 'right', zlevel: 1,
      axisLine: {show: false, onZero: false}, splitLine: {show: false},
      axisTick: {show: true, length: 12, lineStyle: {color: '#000', width: 1}},
      axisLabel: {show: true, fontFamily: serif, fontSize: 46, color: '#000', margin: 25, align: 'left',
        formatter: v => v >= 0 ? '{p| }' + v : String(v),
        rich: {p: {width: 12, fontSize: 46}}}}
  ],
  visualMap: {
    type: 'continuous', seriesIndex: 0, min: -10, max: 10, left: 1085, top: 219, itemWidth: 48, itemHeight: 654,
    calculable: false, showLabel: false, text: ['', ''], textGap: 0, padding: 0, hoverLink: false, realtime: false,
    inRange: {color: paletteStops}, zlevel: 1, silent: true
  },
  graphic: [
    {type: 'rect', zlevel: 1, silent: true, shape: {x: 600, y: 24, width: 478 * timeFraction, height: 31, r: [14, 0, 0, 14]},
      style: {fill: new echarts.graphic.LinearGradient(0, 0, 0, 1, [{offset: 0, color: '#00404f'}, {offset: 0.3, color: '#00bdf0'}, {offset: 0.5, color: '#00ccff'}, {offset: 0.7, color: '#00bdf0'}, {offset: 1, color: '#00404f'}])}},
    {type: 'rect', zlevel: 1, silent: true, shape: {x: 600 + 478 * timeFraction, y: 24, width: 478 * (1 - timeFraction), height: 31, r: [0, 14, 14, 0]},
      style: {fill: new echarts.graphic.LinearGradient(0, 0, 0, 1, [{offset: 0, color: '#505050'}, {offset: 0.3, color: '#d8d8d8'}, {offset: 0.5, color: '#ffffff'}, {offset: 0.7, color: '#d8d8d8'}, {offset: 1, color: '#505050'}])}},
    {type: 'text', zlevel: 1, silent: true, left: 600, top: 64,
      style: {text: 'Time = ' + timeDays + ' d', fill: '#00ccff', font: '300 29.5px "Open Sans"'}}
  ],
  series: [
    {type: 'heatmap', zlevel: 0, xAxisIndex: 2, yAxisIndex: 2, data: fieldData, progressive: 0, silent: true, animation: false, emphasis: {disabled: true}},
    ...isoSeries,
    {type: 'scatter', zlevel: 1, z: 5, xAxisIndex: 0, yAxisIndex: 0, data: [coreOrange], symbolSize: 7, silent: true,
      itemStyle: {color: 'transparent', borderColor: '#ff8000', borderWidth: 2}},
    {type: 'scatter', zlevel: 1, z: 5, xAxisIndex: 0, yAxisIndex: 0, data: [coreCyan], symbolSize: 7, silent: true,
      itemStyle: {color: 'transparent', borderColor: '#00bfe8', borderWidth: 2}},
    {type: 'custom', zlevel: 1, z: 6, xAxisIndex: 0, yAxisIndex: 0, data: flowData, renderItem: drawArrow, clip: true, silent: true, animation: false,
      dimensions: ['x', 'y', 'u', 'v', 'turn'], encode: {x: 0, y: 1}}
  ]
});

// Smooth the coarse lattice of the field layer and keep it inside the plot frame
const fieldCanvas = document.querySelector('#c canvas');
fieldCanvas.style.filter = 'blur(3.5px)';
fieldCanvas.style.clipPath = 'inset(219px 246px 217px 297px)';
</script>
</body>
</html>
